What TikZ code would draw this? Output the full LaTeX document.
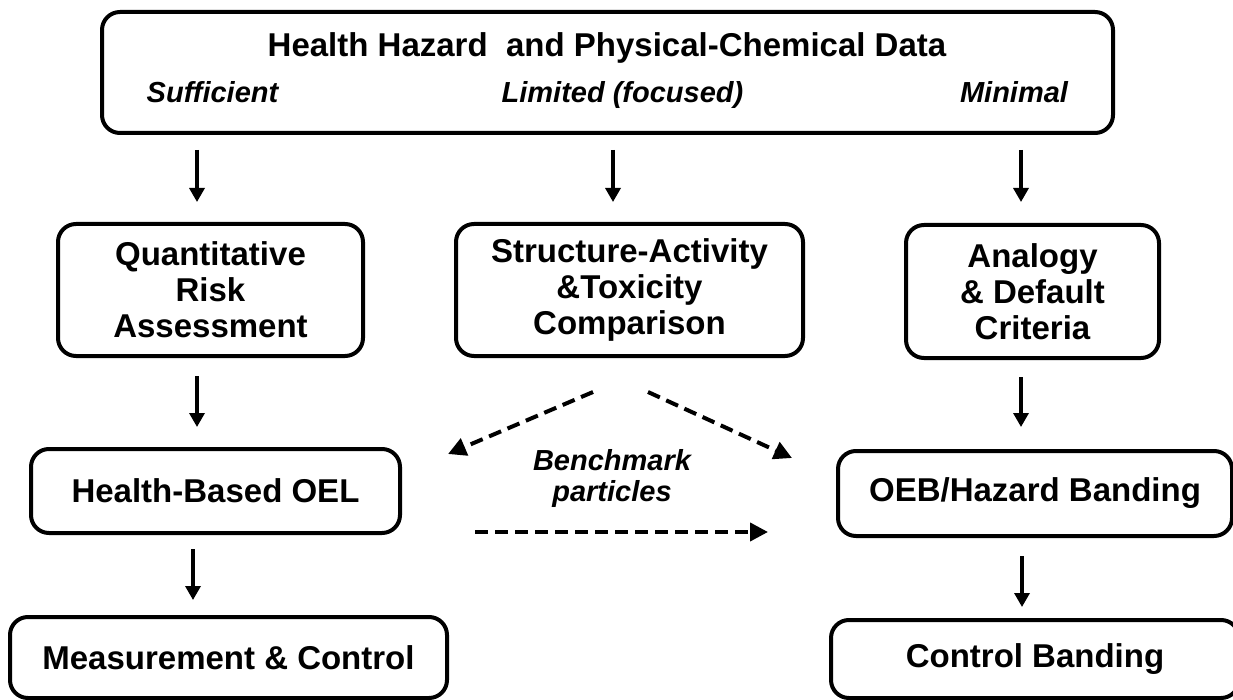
\documentclass[tikz,border=0pt]{standalone}
\usepackage{fontspec}
\setmainfont{Liberation Sans}
\usetikzlibrary{arrows.meta}
\begin{document}
\begin{tikzpicture}[x=1pt,y=-1pt,
  box/.style={draw, line width=4pt, rounded corners=18pt, align=center, inner sep=0pt,
    font=\bfseries\fontsize{33}{36}\selectfont},
  ttl/.style={font=\bfseries\fontsize{33}{36}\selectfont, inner sep=0pt, anchor=base},
  lbl/.style={font=\bfseries\itshape\fontsize{29}{31}\selectfont, inner sep=0pt, anchor=base},
  arr/.style={line width=3.3pt, -{Triangle[length=14pt,width=15pt]}},
  darr/.style={line width=4pt, dash pattern=on 13pt off 7pt, -{Triangle[length=18pt,width=18pt]}}]
\useasboundingbox (0,0) rectangle (1233,700);
\clip (0,0) rectangle (1233,700);
\fill[white] (0,0) rectangle (1233,700);

% top box
\node[box, minimum width=1011pt, minimum height=121pt] (top) at (607.5,72.5) {};
\node[ttl] (title) at (607,57) {Health Hazard\ \ and Physical-Chemical Data};
\node[lbl] (suff) at (212.5,103) {Sufficient};
\node[lbl] (lim) at (622.5,103) {Limited (focused)};
\node[lbl] (mini) at (1014,103) {Minimal};

% second row
\node[box, minimum width=305pt, minimum height=132pt] (qra) at (210.5,290) {Quantitative\\Risk\\Assessment};
\node[box, minimum width=347pt, minimum height=132pt] (sar) at (629.5,290) {Structure-Activity\\\&Toxicity\\Comparison};
\node[box, minimum width=253pt, minimum height=133pt] (ana) at (1032.5,291.5) {Analogy\\\& Default\\Criteria};

% third row
\node[box, minimum width=369pt, minimum height=84pt] (hbo) at (215.5,491) {Health-Based OEL};
\node[box, minimum width=394pt, minimum height=85pt] (oeb) at (1035,493.5) {OEB/Hazard Banding};

% bottom row
\node[box, minimum width=437pt, minimum height=81pt] (mc) at (228.5,657.5) {Measurement \& Control};
\node[box, minimum width=408pt, minimum height=78pt] (cb) at (1035,659) {Control Banding};

% benchmark label
\node[lbl, anchor=center, align=center] (bench) at (612,478) {Benchmark\\particles};

% solid arrow end points
\coordinate (a1s) at (197,150);  \coordinate (a1e) at (197,202);
\coordinate (a2s) at (613,150);  \coordinate (a2e) at (613,202);
\coordinate (a3s) at (1021,150); \coordinate (a3e) at (1021,202);
\coordinate (b1s) at (197,376);  \coordinate (b1e) at (197,427);
\coordinate (b3s) at (1021,377); \coordinate (b3e) at (1021,427);
\coordinate (c1s) at (193,549);  \coordinate (c1e) at (193,600);
\coordinate (c3s) at (1022,556); \coordinate (c3e) at (1022,607);

\draw[arr] (a1s) -- (a1e);
\draw[arr] (a2s) -- (a2e);
\draw[arr] (a3s) -- (a3e);
\draw[arr] (b1s) -- (b1e);
\draw[arr] (b3s) -- (b3e);
\draw[arr] (c1s) -- (c1e);
\draw[arr] (c3s) -- (c3e);

% dashed arrows
\coordinate (d1s) at (593,392); \coordinate (d1e) at (448,454);
\coordinate (d2s) at (648,392); \coordinate (d2e) at (792,458);
\coordinate (d3s) at (475,532); \coordinate (d3e) at (768,532);
\draw[darr] (d1s) -- (d1e);
\draw[darr] (d2s) -- (d2e);
\draw[darr] (d3s) -- (d3e);
\end{tikzpicture}
\end{document}
